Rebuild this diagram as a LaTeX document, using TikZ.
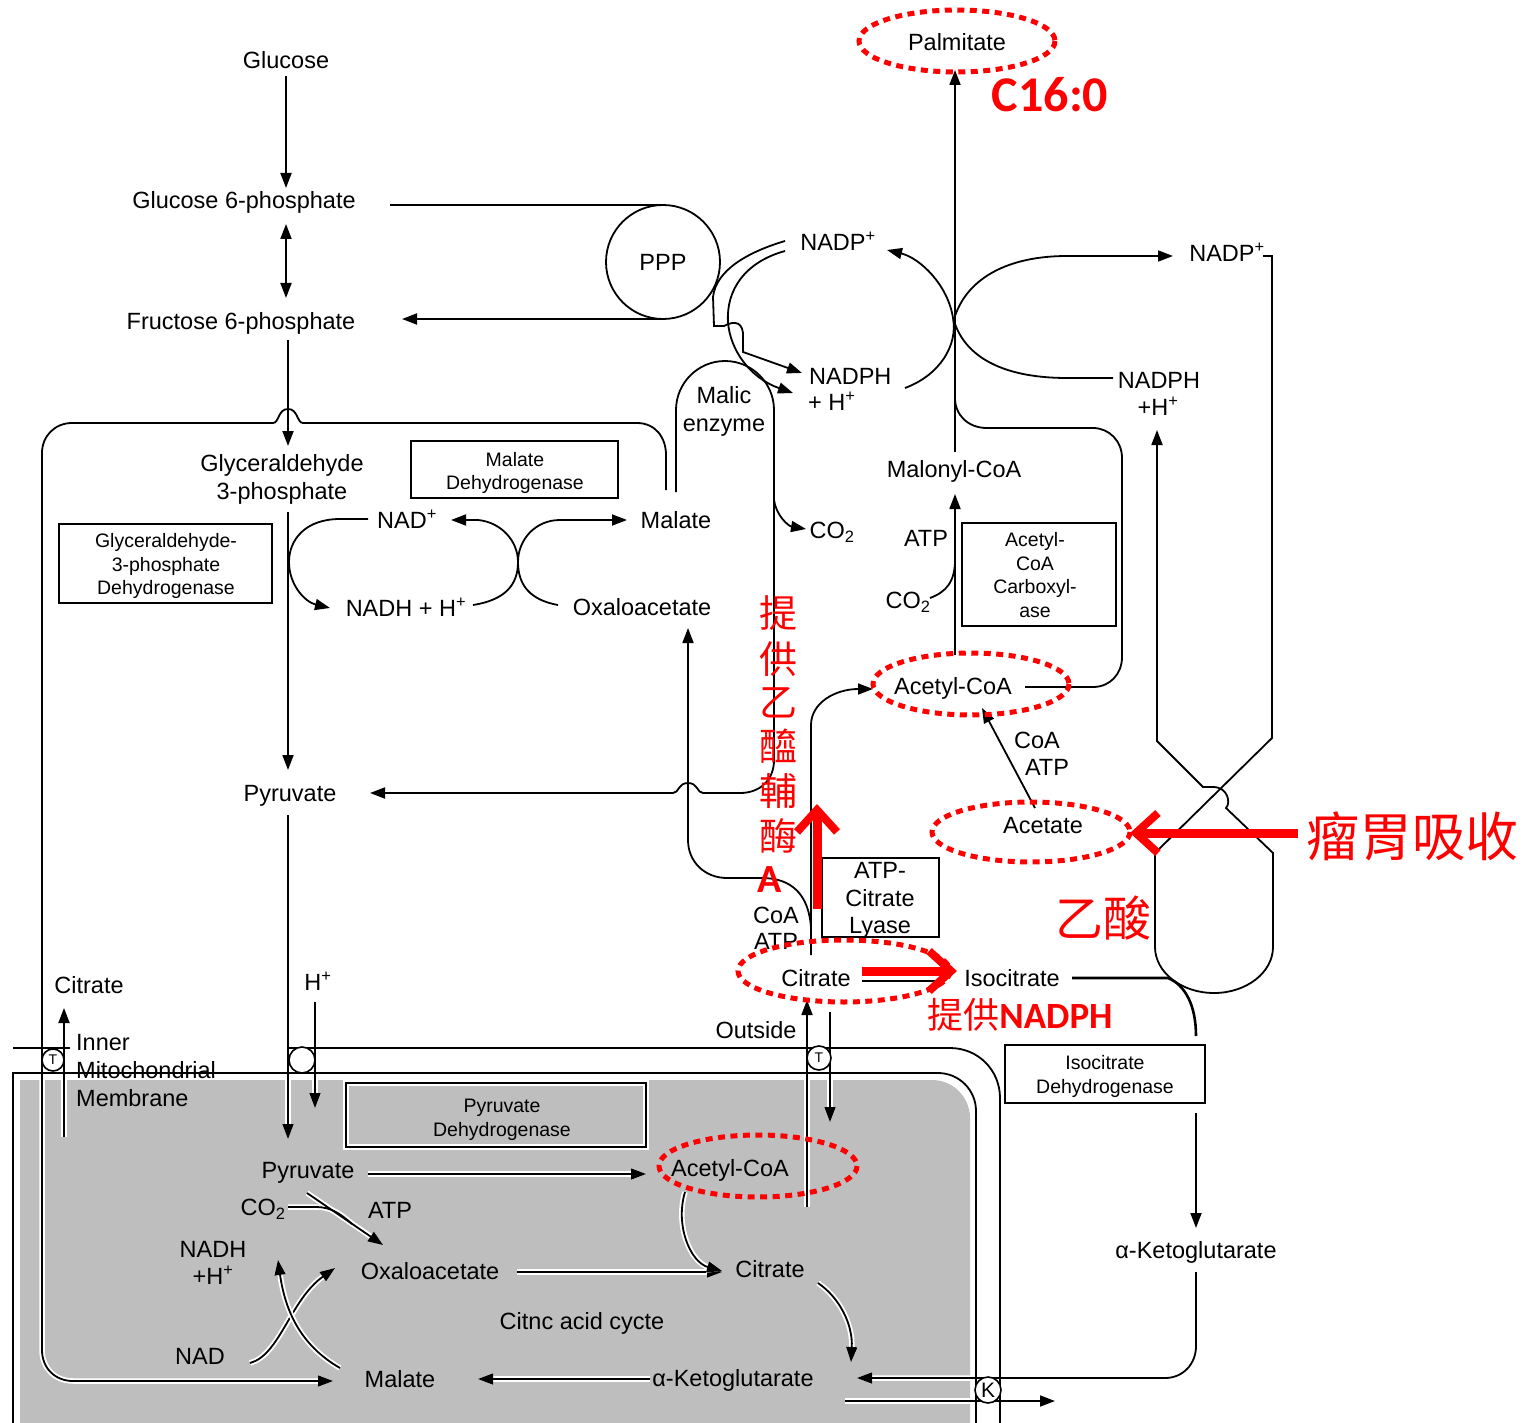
\documentclass[tikz,border=0pt]{standalone}
\usepackage{fontspec}
\setmainfont{Liberation Sans}
\newfontfamily\cjk{Noto Sans CJK TC}
\newfontfamily\calb{Carlito}
\usetikzlibrary{arrows.meta}
\definecolor{mgray}{RGB}{190,190,190}
\definecolor{mred}{RGB}{255,0,0}
\newcommand\fm{\fontsize{23.5}{28}\selectfont}
\newcommand\fs{\fontsize{19.5}{23.5}\selectfont}
\tikzset{
 ln/.style={line width=1.8pt},
 arr/.style={ln,-{Triangle[length=15pt,width=11pt]}},
 darr/.style={ln,{Triangle[length=15pt,width=11pt]}-{Triangle[length=15pt,width=11pt]}},
 glow/.style={preaction={draw=white,line width=5.5pt}},
 lab/.style={font=\fm, inner sep=0pt, text height=17pt, text depth=0pt},
 slab/.style={font=\fs, inner sep=0pt, text height=14pt, text depth=0pt},
 boxr/.style={draw, line width=1.8pt},
 redell/.style={draw=mred, line width=5pt, dash pattern=on 7pt off 5.5pt},
 redarr/.style={draw=mred, line width=9pt, -{Straight Barb[length=22pt,width=40pt,line width=8pt]}},
 cjkr/.style={text=mred, inner sep=0pt, font=\cjk\fontsize{38}{40}\selectfont},
 circ/.style={circle, draw, line width=1.6pt, fill=white, inner sep=0pt},
}
\begin{document}
\begin{tikzpicture}[x=1pt,y=-1pt]
\useasboundingbox (0,0) rectangle (1523,1423);
\fill[white] (0,0) rectangle (1523,1423);
% matrix
\fill[mgray] (20,1423) -- (20,1080) -- (932,1080) .. controls (953,1080) and (970,1097) .. (970,1118) -- (970,1423) -- cycle;

% malate shuttle loop
\draw[arr,glow] (666,490) -- (666,455) .. controls (666,437) and (655,423) .. (637,423) -- (303,423) .. controls (297,423) and (298,409) .. (288,409) .. controls (278,409) and (279,423) .. (273,423) -- (72,423) .. controls (55,423) and (42,436) .. (42,453) -- (42,1350) .. controls (42,1368) and (55,1381) .. (73,1381) -- (333,1381);

% glycolysis
\draw[arr] (286,76) -- (286,188);
\draw[darr] (286,224) -- (286,298);
\draw[arr] (288,340) -- (288,446);
\draw[arr] (288,512) -- (288,770);
\draw[arr,glow] (288,815) -- (288,1139);
\draw[arr,glow] (315,1002) -- (315,1108);

% PPP
\draw[ln] (390,205) -- (663,205);
\draw[ln] (663,262) circle[radius=57];
\draw[arr] (663,319) -- (402,319);

% NADP cycles (left)
\draw[arr] (785,241) .. controls (748,252) and (716,270) .. (713,297) -- (714,326) -- (724,326) .. controls (735,320) and (744,322) .. (743,338) -- (743,352) -- (802,373);
\draw[arr] (785,251) .. controls (745,262) and (726,290) .. (728,322) .. controls (730,350) and (750,378) .. (793,393);
\draw[arr] (905,388) .. controls (940,375) and (958,345) .. (953,318) .. controls (948,285) and (920,258) .. (887,250);

% NADP cycles (right)
\draw[arr] (955,316) .. controls (968,278) and (1008,256) .. (1067,256) -- (1173,256);
\draw[ln] (955,324) .. controls (968,360) and (1008,378) .. (1067,378) -- (1113,378);
\draw[arr] (1263,256) -- (1272,256) -- (1272,738) -- (1155,853) -- (1155,947) .. controls (1155,972) and (1181,993) .. (1214,993) .. controls (1247,993) and (1273,972) .. (1273,947) -- (1273,853) -- (1226,808) .. controls (1231,803) and (1228,787) .. (1213,787) -- (1203,787) -- (1157,741) -- (1157,430);

% fatty acid synthesis
\draw[arr] (955,452) -- (955,70);
\draw[arr] (955,655) -- (955,494);
\draw[ln] (930,598) .. controls (946,592) and (955,582) .. (955,560);
\draw[ln] (1025,687) -- (1093,687) .. controls (1110,687) and (1122,674) .. (1122,657) -- (1122,458) .. controls (1122,441) and (1109,428) .. (1093,428) -- (987,428) .. controls (968,428) and (955,415) .. (955,398);

% malic enzyme
\draw[arr] (676,492) -- (676,410) .. controls (676,383) and (698,361) .. (725,361) .. controls (752,361) and (774,383) .. (774,410) -- (774,760) .. controls (774,780) and (760,793) .. (740,793) -- (703,793) .. controls (697,793) and (698,783) .. (688,783) .. controls (678,783) and (679,793) .. (673,793) -- (370,793);
\draw[arr] (774,500) .. controls (776,515) and (788,526) .. (806,529);

% GAPDH and MDH
\draw[arr] (368,519) -- (340,519) .. controls (305,519) and (289,540) .. (289,562) .. controls (289,585) and (305,602) .. (330,608);
\draw[arr] (473,605) .. controls (505,600) and (518,585) .. (518,562) .. controls (518,540) and (500,522) .. (478,520) -- (451,520);
\draw[arr] (558,605) .. controls (530,600) and (518,585) .. (518,562) .. controls (518,540) and (535,520) .. (560,520) -- (627,520);

% citrate lyase
\draw[arr] (811,928) .. controls (809,895) and (792,878) .. (762,878) -- (727,878) .. controls (705,878) and (688,862) .. (688,840) -- (688,628);
\draw[arr] (811,955) -- (811,725) .. controls (811,703) and (835,689) .. (873,689);
\draw[arr] (1035,808) -- (982,708);

% citrate - isocitrate - aKG
\draw[ln] (862,974) -- (942,974);
\draw[ln] (862,981) -- (942,981);
\draw[line width=2.6pt] (1072,978) -- (1168,978) .. controls (1185,985) and (1196,1005) .. (1196,1036);
\draw[arr] (1196,1113) -- (1196,1228);
\draw[arr,glow] (1196,1272) -- (1196,1346) .. controls (1196,1364) and (1183,1378) .. (1165,1378) -- (857,1378);
\draw[arr,glow] (845,1401) -- (1055,1401);

% transport
\draw[arr,glow] (807,1207) -- (807,1000);
\draw[arr,glow] (830,1012) -- (830,1122);
\draw[arr,glow] (64,1137) -- (64,1008);

% matrix reactions
\draw[white,line width=5.5pt] (288,1207) -- (316,1207) .. controls (330,1207) and (340,1213) .. (352,1224);
\draw[white,line width=5.5pt] (307,1193) -- (376,1240);
\draw[ln] (288,1207) -- (316,1207) .. controls (330,1207) and (340,1213) .. (352,1224);
\draw[arr] (307,1193) -- (383,1245);
\draw[arr,glow] (368,1174) -- (646,1174);
\draw[arr,glow] (517,1272) -- (722,1272);
\draw[arr,glow] (685,1192) .. controls (675,1225) and (690,1262) .. (722,1271);
\draw[arr,glow] (818,1283) .. controls (840,1298) and (853,1325) .. (851,1362);
\draw[arr,glow] (650,1379) -- (478,1379);
\draw[arr,glow] (250,1363) .. controls (280,1355) and (290,1300) .. (335,1268);
\draw[arr,glow] (340,1368) .. controls (300,1345) and (285,1310) .. (278,1260);
\draw[ln,glow] (346,1083) rectangle (646,1147);

% membrane labels
\node[lab,anchor=west] (inn1) at (76,1042) {Inner};
\node[lab,anchor=west] (inn2) at (76,1070) {Mitochondrial};
\node[lab,anchor=west] (inn3) at (76,1098) {Membrane};

% membranes
\draw[ln] (13,1048) -- (70,1048);
\draw[ln] (288,1048) -- (950,1048) .. controls (978,1048) and (1000,1070) .. (1000,1098) -- (1000,1423);
\draw[ln] (13,1423) -- (13,1073) -- (938,1073) .. controls (959,1073) and (976,1090) .. (976,1111) -- (976,1423);

% transporters
\node[circ,minimum size=22pt,font=\fontsize{14}{14}\selectfont] (t1) at (53,1060) {T};
\node[circ,minimum size=26pt] (t2) at (302,1060) {};
\node[circ,minimum size=24pt,font=\fontsize{14}{14}\selectfont] (t3) at (819,1058) {T};
\node[circ,minimum size=26pt,font=\fontsize{21}{21}\selectfont] (kt) at (988,1390) {K};

% enzyme boxes
\draw[boxr] (411,441) rectangle (618,498);
\node[slab] (mdh1) at (515,459) {Malate};
\node[slab] (mdh2) at (515,482) {Dehydrogenase};
\draw[boxr] (59,524) rectangle (272,603);
\node[slab] (gd1) at (166,540) {Glyceraldehyde-};
\node[slab] (gd2) at (166,564) {3-phosphate};
\node[slab] (gd3) at (166,587) {Dehydrogenase};
\draw[boxr] (962,523) rectangle (1116,626);
\node[slab] (acc1) at (1035,539) {Acetyl-};
\node[slab] (acc2) at (1035,563) {CoA};
\node[slab] (acc3) at (1035,586) {Carboxyl-};
\node[slab] (acc4) at (1035,610) {ase};
\draw[boxr] (822,858) rectangle (939,937);
\node[lab] (acl1) at (880,870) {ATP-};
\node[lab] (acl2) at (880,898) {Citrate};
\node[lab] (acl3) at (880,925) {Lyase};
\draw[boxr] (1005,1045) rectangle (1205,1103);
\node[slab] (idh1) at (1105,1062) {Isocitrate};
\node[slab] (idh2) at (1105,1086) {Dehydrogenase};

% cytosol labels
\node[lab] (glc) at (286,60) {Glucose};
\node[lab] (g6p) at (244,200) {Glucose 6-phosphate};
\node[lab] (f6p) at (241,321) {Fructose 6-phosphate};
\node[lab] (ppp) at (663,262) {PPP};
\node[lab] (nadpA) at (838,242) {NADP\textsuperscript{+}};
\node[lab,anchor=west] (nadphA) at (809,376) {NADPH};
\node[lab,anchor=west] (hA) at (808,402) {+ H\textsuperscript{+}};
\node[lab] (nadpB) at (1227,253) {NADP\textsuperscript{+}};
\node[lab] (nadphB) at (1159,380) {NADPH};
\node[lab] (hB) at (1158,407) {+H\textsuperscript{+}};
\node[lab] (me1) at (724,395) {Malic};
\node[lab] (me2) at (724,423) {enzyme};
\node[lab] (gap1) at (282,463) {Glyceraldehyde};
\node[lab] (gap2) at (282,491) {3-phosphate};
\node[lab] (nad) at (407,520) {NAD\textsuperscript{+}};
\node[lab] (nadh) at (406,608) {NADH + H\textsuperscript{+}};
\node[lab] (mal) at (676,520) {Malate};
\node[lab] (oaa) at (642,607) {Oxaloacetate};
\node[lab] (co2a) at (832,530) {CO\textsubscript{2}};
\node[lab] (malc) at (954,469) {Malonyl-CoA};
\node[lab] (atpa) at (926,538) {ATP};
\node[lab] (co2b) at (908,600) {CO\textsubscript{2}};
\node[lab] (accoa) at (953,686) {Acetyl-CoA};
\node[lab] (coa1) at (1037,740) {CoA};
\node[lab] (atp1) at (1047,767) {ATP};
\node[lab] (acet) at (1043,825) {Acetate};
\node[lab] (pyr) at (290,793) {Pyruvate};
\node[lab] (coa2) at (776,915) {CoA};
\node[lab] (atp2) at (776,941) {ATP};
\node[lab] (cit) at (816,978) {Citrate};
\node[lab] (icit) at (1012,978) {Isocitrate};
\node[lab] (outs) at (756,1030) {Outside};
\node[lab] (citL) at (89,985) {Citrate};
\node[lab] (hp) at (318,982) {H\textsuperscript{+}};
\node[lab] (akg) at (1196,1250) {α-Ketoglutarate};
\node[lab] (palm) at (957,42) {Palmitate};

% matrix labels
\node[lab] (pyrm) at (308,1170) {Pyruvate};
\node[lab] (accoam) at (730,1168) {Acetyl-CoA};
\node[lab] (co2m) at (263,1207) {CO\textsubscript{2}};
\node[lab] (atpm) at (390,1210) {ATP};
\node[lab] (nadhm) at (213,1249) {NADH};
\node[lab] (hm) at (213,1276) {+H\textsuperscript{+}};
\node[lab] (oaam) at (430,1271) {Oxaloacetate};
\node[lab] (citm) at (770,1269) {Citrate};
\node[lab] (tca) at (582,1321) {Citnc acid cycte};
\node[lab] (nadm) at (200,1356) {NAD};
\node[lab] (malm) at (400,1379) {Malate};
\node[lab] (akgm) at (733,1378) {α-Ketoglutarate};
\node[slab] (pdh1) at (502,1105) {Pyruvate};
\node[slab] (pdh2) at (502,1129) {Dehydrogenase};

% red annotations
\draw[redell] (957,41) ellipse[x radius=98,y radius=31];
\draw[redell] (971,684) ellipse[x radius=98,y radius=31];
\draw[redell] (1031,832) ellipse[x radius=99,y radius=30];
\draw[redell] (844,971) ellipse[x radius=106,y radius=31];
\draw[redell] (758,1166) ellipse[x radius=99,y radius=31];
\draw[redarr] (817,909) -- (817,804);
\draw[redarr] (1298,833) -- (1130,833);
\draw[redarr] (862,971) -- (957,971);
\node[text=mred,font=\calb\bfseries\fontsize{50}{52}\selectfont,inner sep=0pt] (c16) at (1050,95) {C16:0};
\node[cjkr] (v1) at (778,613) {提};
\node[cjkr] (v2) at (778,659) {供};
\node[cjkr] (v3) at (778,703) {乙};
\node[cjkr] (v4) at (778,746) {醯};
\node[cjkr] (v5) at (778,791) {輔};
\node[cjkr] (v6) at (778,836) {酶};
\node[text=mred,font=\calb\bfseries\fontsize{40}{40}\selectfont,inner sep=0pt] (v7) at (770,880) {A};
\node[text=mred,font=\cjk\fontsize{53}{55}\selectfont,inner sep=0pt] (rumen) at (1412,836) {瘤胃吸收};
\node[text=mred,font=\cjk\fontsize{48}{50}\selectfont,inner sep=0pt] (acetic) at (1103,918) {乙酸};
\node[text=mred,inner sep=0pt] (nadphr) at (1020,1015) {{\cjk\fontsize{36}{38}\selectfont 提供}{\calb\bfseries\fontsize{37}{38}\selectfont NADPH}};
\end{tikzpicture}
\end{document}
